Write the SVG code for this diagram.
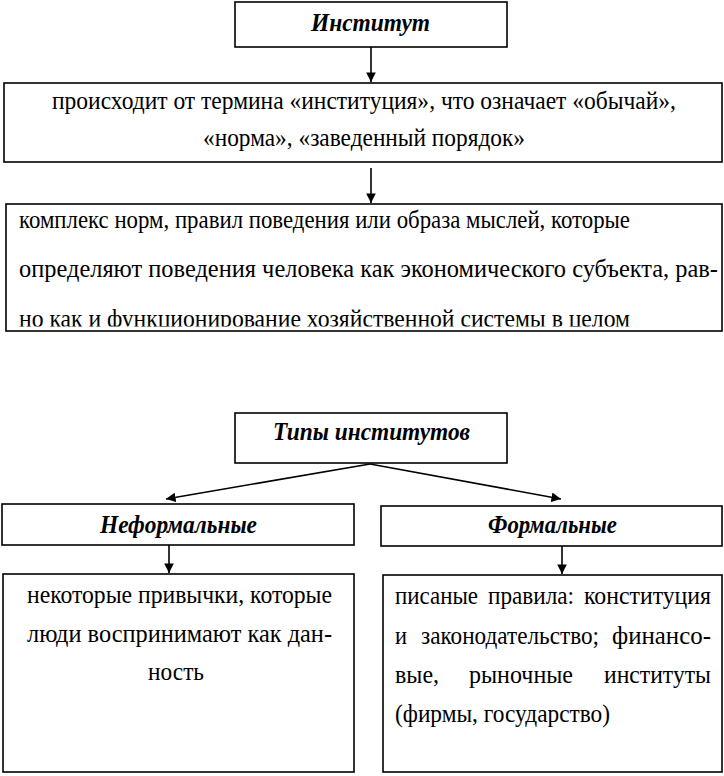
<svg xmlns="http://www.w3.org/2000/svg" width="724" height="776" viewBox="0 0 724 776">
<style>
.box{fill:#fff;stroke:#000;stroke-width:1.6}
.t{font-family:"Liberation Serif","Times New Roman",serif;font-size:26px;fill:#000}
.h{font-family:"Liberation Serif","Times New Roman",serif;font-size:26px;font-weight:bold;font-style:italic;fill:#000}
.c{stroke:#000;stroke-width:1.6;fill:none}
</style>
<defs>
<marker id="ah" viewBox="0 0 10 10" refX="10" refY="5" markerWidth="6" markerHeight="6" orient="auto" markerUnits="strokeWidth">
<path d="M0,0 L10,5 L0,10 z" fill="#000"/>
</marker>
<clipPath id="clip3"><rect x="6" y="204" width="716" height="122.5"/></clipPath>
</defs>
<rect width="724" height="776" fill="#fff"/>

<g id="connectors">
<line class="c" x1="371" y1="47" x2="371" y2="82" marker-end="url(#ah)"/>
<line class="c" x1="371" y1="168" x2="371" y2="203" marker-end="url(#ah)"/>
<line class="c" x1="370" y1="464" x2="166" y2="499" marker-end="url(#ah)"/>
<line class="c" x1="370" y1="464" x2="561" y2="499" marker-end="url(#ah)"/>
<line class="c" x1="169" y1="545" x2="169" y2="573" marker-end="url(#ah)"/>
<line class="c" x1="562" y1="546" x2="562" y2="574" marker-end="url(#ah)"/>
</g>

<g id="institut">
<rect class="box" x="235" y="2" width="272" height="45"/>
<text class="h" x="311" y="31" textLength="119" lengthAdjust="spacingAndGlyphs">Институт</text>
</g>

<g id="origin">
<rect class="box" x="4" y="83" width="718" height="79"/>
<text class="t" x="52" y="109" textLength="624" lengthAdjust="spacingAndGlyphs">происходит от термина «институция», что означает «обычай»,</text>
<text class="t" x="203" y="146" textLength="322" lengthAdjust="spacingAndGlyphs">«норма», «заведенный порядок»</text>
</g>

<g id="definition">
<rect class="box" x="6" y="204" width="716" height="127"/>
<g clip-path="url(#clip3)">
<text class="t" x="19" y="228" textLength="611" lengthAdjust="spacingAndGlyphs">комплекс норм, правил поведения или образа мыслей, которые</text>
<text class="t" x="19" y="277" textLength="699" lengthAdjust="spacingAndGlyphs">определяют поведения человека как экономического субъекта, рав-</text>
<text class="t" x="19" y="327" textLength="611" lengthAdjust="spacingAndGlyphs">но как и функционирование хозяйственной системы  в целом</text>
</g>
</g>

<g id="types">
<rect class="box" x="235" y="413" width="272" height="50"/>
<text class="h" x="273" y="440" textLength="197" lengthAdjust="spacingAndGlyphs">Типы институтов</text>
</g>

<g id="informal">
<rect class="box" x="2" y="504" width="352" height="41"/>
<text class="h" x="100" y="533" textLength="157" lengthAdjust="spacingAndGlyphs">Неформальные</text>
</g>

<g id="formal">
<rect class="box" x="381" y="506" width="341" height="40"/>
<text class="h" x="488" y="533" textLength="129" lengthAdjust="spacingAndGlyphs">Формальные</text>
</g>

<g id="informal-desc">
<rect class="box" x="3" y="574" width="351" height="198"/>
<text class="t" x="27" y="603" textLength="305" lengthAdjust="spacingAndGlyphs">некоторые привычки, которые</text>
<text class="t" x="27" y="642" textLength="305" lengthAdjust="spacingAndGlyphs">люди воспринимают как дан-</text>
<text class="t" x="148" y="680" textLength="56" lengthAdjust="spacingAndGlyphs">ность</text>
</g>

<g id="formal-desc">
<rect class="box" x="383" y="575" width="339" height="197"/>
<text class="t" x="395" y="604" textLength="83" lengthAdjust="spacingAndGlyphs">писаные</text>
<text class="t" x="488" y="604" textLength="86" lengthAdjust="spacingAndGlyphs">правила:</text>
<text class="t" x="584" y="604" textLength="127" lengthAdjust="spacingAndGlyphs">конституция</text>
<text class="t" x="395" y="644" textLength="12" lengthAdjust="spacingAndGlyphs">и</text>
<text class="t" x="421" y="644" textLength="178" lengthAdjust="spacingAndGlyphs">законодательство;</text>
<text class="t" x="612" y="644" textLength="99" lengthAdjust="spacingAndGlyphs">финансо-</text>
<text class="t" x="395" y="683" textLength="44" lengthAdjust="spacingAndGlyphs">вые,</text>
<text class="t" x="469" y="683" textLength="104" lengthAdjust="spacingAndGlyphs">рыночные</text>
<text class="t" x="604" y="683" textLength="107" lengthAdjust="spacingAndGlyphs">институты</text>
<text class="t" x="395" y="722" textLength="215" lengthAdjust="spacingAndGlyphs">(фирмы, государство)</text>
</g>
</svg>
